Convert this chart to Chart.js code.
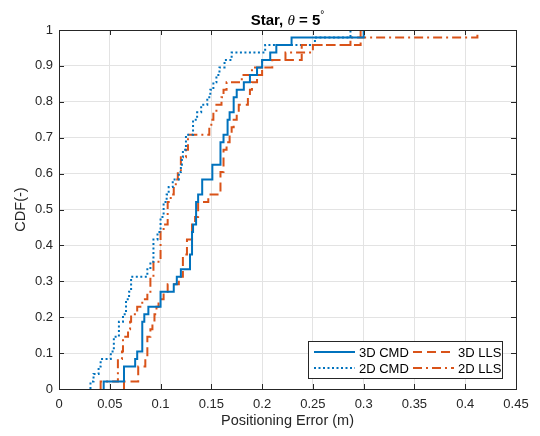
<!DOCTYPE html>
<html>
<head>
<meta charset="utf-8">
<script src="https://cdn.jsdelivr.net/npm/chart.js@4.4.0/dist/chart.umd.min.js"></script>
<style>
  body { margin: 0; background: #fff; }
  #wrap { width: 540px; height: 436px; }
</style>
<title>Star CDF</title>
</head>
<body>
<div id="wrap"><canvas id="canvas" width="540" height="436"></canvas></div>
<script>
// sorted positioning errors (m)
var cmd3d = [0.044, 0.064, 0.064, 0.075, 0.077, 0.082, 0.082, 0.082, 0.082, 0.084,
             0.088, 0.100, 0.100, 0.113, 0.116, 0.120, 0.129, 0.129, 0.131, 0.131,
             0.131, 0.132, 0.135, 0.135, 0.135, 0.137, 0.141, 0.141, 0.151, 0.151,
             0.159, 0.159, 0.159, 0.162, 0.166, 0.166, 0.168, 0.172, 0.172, 0.175,
             0.182, 0.188, 0.195, 0.200, 0.208, 0.214, 0.229, 0.300];
var cmd2d = [0.031, 0.034, 0.039, 0.041, 0.051, 0.054, 0.054, 0.059, 0.059, 0.063,
             0.066, 0.066, 0.069, 0.071, 0.071, 0.087, 0.090, 0.093, 0.093, 0.093,
             0.097, 0.100, 0.100, 0.103, 0.103, 0.106, 0.108, 0.112, 0.118, 0.120,
             0.121, 0.122, 0.125, 0.125, 0.132, 0.132, 0.136, 0.140, 0.146, 0.149,
             0.152, 0.155, 0.158, 0.163, 0.170, 0.203, 0.252, 0.287];
var lls3d = [0.064, 0.078, 0.078, 0.085, 0.087, 0.087, 0.087, 0.090, 0.092, 0.094,
             0.096, 0.098, 0.103, 0.107, 0.118, 0.122, 0.122, 0.122, 0.126, 0.126,
             0.131, 0.131, 0.134, 0.137, 0.137, 0.147, 0.159, 0.159, 0.159, 0.162,
             0.162, 0.162, 0.165, 0.168, 0.170, 0.172, 0.175, 0.177, 0.186, 0.188,
             0.190, 0.195, 0.200, 0.210, 0.239, 0.239, 0.297, 0.297];
var lls2d = [0.041, 0.058, 0.058, 0.058, 0.062, 0.063, 0.063, 0.068, 0.070, 0.071,
             0.077, 0.082, 0.087, 0.090, 0.090, 0.093, 0.093, 0.100, 0.100, 0.100,
             0.100, 0.103, 0.107, 0.107, 0.107, 0.110, 0.113, 0.115, 0.117, 0.120,
             0.120, 0.125, 0.127, 0.127, 0.148, 0.150, 0.152, 0.155, 0.160, 0.162,
             0.165, 0.180, 0.190, 0.200, 0.223, 0.250, 0.287, 0.412];

var seriesNames = ['3D CMD', '2D CMD', '3D LLS', '2D LLS'];
var xTicks = [0, 0.05, 0.1, 0.15, 0.2, 0.25, 0.3, 0.35, 0.4, 0.45];
var xTickLabels = ['0', '0.05', '0.1', '0.15', '0.2', '0.25', '0.3', '0.35', '0.4', '0.45'];
var yTicks = [0, 0.1, 0.2, 0.3, 0.4, 0.5, 0.6, 0.7, 0.8, 0.9, 1];
var yTickLabels = ['0', '0.1', '0.2', '0.3', '0.4', '0.5', '0.6', '0.7', '0.8', '0.9', '1'];

var BLUE = '#0072BD';
var ORANGE = '#D95319';
var AXIS = '#262626';
var FONT = '"Liberation Sans", Arial, Helvetica, sans-serif';
var LINE_W = 2;

// empirical CDF: start at (min, 0) then one step per sample
function cdfPoints(errs) {
  var n = errs.length;
  var pts = [{x: errs[0], y: 0}];
  for (var i = 0; i < n; i++) pts.push({x: errs[i], y: (i + 1) / n});
  return pts;
}

function setTicks(values) {
  return function(scale) { scale.ticks = values.map(function(v) { return {value: v}; }); };
}

// box, inward ticks, legend and title drawn MATLAB-style
var matlabAxes = {
  id: 'matlabAxes',
  afterDraw: function(chart) {
    var ctx = chart.ctx, a = chart.chartArea;
    var xs = chart.scales.x, ys = chart.scales.y;
    ctx.save();
    ctx.strokeStyle = AXIS;
    ctx.lineWidth = 1;
    ctx.setLineDash([]);
    ctx.beginPath();
    xTicks.forEach(function(v) {
      var px = Math.round(xs.getPixelForValue(v)) + 0.5;
      ctx.moveTo(px, a.bottom); ctx.lineTo(px, a.bottom - 5);
      ctx.moveTo(px, a.top); ctx.lineTo(px, a.top + 5);
    });
    yTicks.forEach(function(v) {
      var py = Math.round(ys.getPixelForValue(v)) + 0.5;
      ctx.moveTo(a.left, py); ctx.lineTo(a.left + 5, py);
      ctx.moveTo(a.right, py); ctx.lineTo(a.right - 5, py);
    });
    ctx.stroke();
    ctx.strokeRect(Math.round(a.left) + 0.5, Math.round(a.top) + 0.5,
                   Math.round(a.right - a.left), Math.round(a.bottom - a.top));

    // legend
    var bx = 308.5, by = 341.5, bw = 194, bh = 37;
    ctx.fillStyle = '#fff';
    ctx.fillRect(bx, by, bw, bh);
    ctx.strokeStyle = AXIS;
    ctx.strokeRect(bx, by, bw, bh);
    var slots = [[314, 352], [314, 368], [413, 352], [413, 368]];
    ctx.font = '13px ' + FONT;
    ctx.textBaseline = 'middle';
    chart.data.datasets.forEach(function(ds, i) {
      var s = slots[i];
      ctx.strokeStyle = ds.borderColor;
      ctx.lineWidth = LINE_W;
      ctx.setLineDash(ds.borderDash || []);
      ctx.beginPath();
      ctx.moveTo(s[0], s[1]);
      ctx.lineTo(s[0] + 41, s[1]);
      ctx.stroke();
      ctx.fillStyle = '#000';
      ctx.fillText(ds.label, s[0] + 45, s[1] + 1);
    });
    ctx.setLineDash([]);

    // title: Star, θ = 5°
    var parts = [
      {t: 'Star, ', f: 'bold 15px ' + FONT, dy: 0},
      {t: '\u03B8', f: 'italic 15px "Liberation Serif", "DejaVu Serif", serif', dy: 0},
      {t: ' = 5', f: 'bold 15px ' + FONT, dy: 0},
      {t: '\u00B0', f: '10px ' + FONT, dy: -7}
    ];
    var total = 0;
    parts.forEach(function(p) { ctx.font = p.f; p.w = ctx.measureText(p.t).width; total += p.w; });
    var x = (a.left + a.right) / 2 - total / 2;
    ctx.fillStyle = '#000';
    ctx.textBaseline = 'alphabetic';
    parts.forEach(function(p) { ctx.font = p.f; ctx.fillText(p.t, x, 25 + p.dy); x += p.w; });
    ctx.restore();
  }
};

var chart = new Chart(document.getElementById('canvas'), {
  type: 'line',
  data: {
    datasets: [
      {label: seriesNames[0], data: cdfPoints(cmd3d), borderColor: BLUE, borderDash: [], order: 1},
      {label: seriesNames[1], data: cdfPoints(cmd2d), borderColor: BLUE, borderDash: [2, 2.5], order: 3},
      {label: seriesNames[2], data: cdfPoints(lls3d), borderColor: ORANGE, borderDash: [9, 5], order: 2},
      {label: seriesNames[3], data: cdfPoints(lls2d), borderColor: ORANGE, borderDash: [9, 4, 2, 4], order: 4}
    ]
  },
  options: {
    responsive: false,
    animation: false,
    layout: {padding: {top: 30, right: 24, left: 0, bottom: 0}},
    elements: {
      line: {borderWidth: LINE_W, stepped: 'before', fill: false, tension: 0},
      point: {radius: 0, hoverRadius: 0}
    },
    plugins: {legend: {display: false}, tooltip: {enabled: false}, title: {display: false}},
    scales: {
      x: {
        type: 'linear', min: 0, max: 0.45,
        afterBuildTicks: setTicks(xTicks),
        afterFit: function(s) { s.height = 47; },
        grid: {color: '#e3e3e3', drawTicks: false},
        border: {display: false},
        ticks: {
          padding: 8, color: AXIS, font: {family: FONT, size: 13}, maxRotation: 0,
          callback: function(v) { return xTickLabels[xTicks.indexOf(v)]; }
        },
        title: {display: true, text: 'Positioning Error (m)', color: AXIS,
                font: {family: FONT, size: 14.5}, padding: {top: 0, bottom: 6}}
      },
      y: {
        type: 'linear', min: 0, max: 1,
        afterBuildTicks: setTicks(yTicks),
        afterFit: function(s) { s.width = 59; },
        grid: {color: '#e3e3e3', drawTicks: false},
        border: {display: false},
        ticks: {
          padding: 6, color: AXIS, font: {family: FONT, size: 13},
          callback: function(v) { return yTickLabels[yTicks.indexOf(v)]; }
        },
        title: {display: true, text: 'CDF(-)', color: AXIS,
                font: {family: FONT, size: 14.5}, padding: {top: 12, bottom: 0}}
      }
    }
  },
  plugins: [matlabAxes]
});
</script>
</body>
</html>
